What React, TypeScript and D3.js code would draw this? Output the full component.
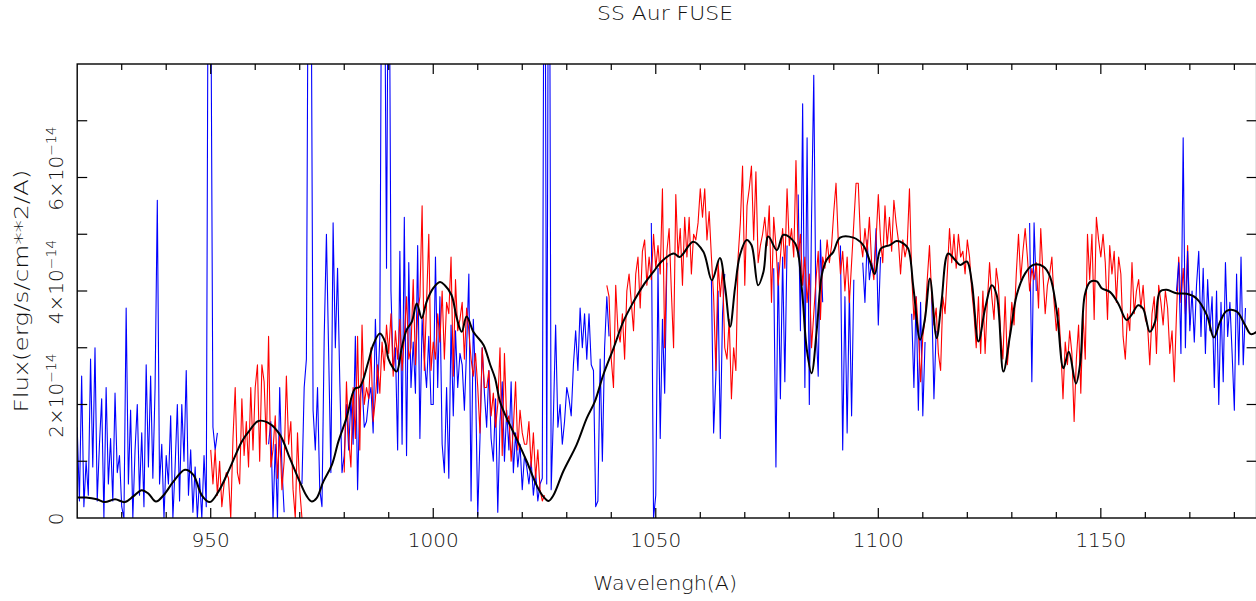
import React from "react";
import * as d3 from "d3";

const WIDTH = 1256;
const HEIGHT = 601;
const STEP = 0.5; // sampling of the spectra, Angstrom

// ---- Blue channel (flux in 1e-14 erg/s/cm^2/A), segments start wavelength + samples every 0.5 A
const blue920 = [
  1.6, 0.3, 2.5, 0.2, 1.0, 0.4, 2.8, 0.9, 3.0, 0.3,
  1.3, 2.1, 0.0, 2.3, 0.6, 1.4, 0.3, 2.2, 0.8, 1.1,
  0.2, 0.0, 3.7, 0.6, 1.9, 0.0, 1.2, 2.0, 0.4, 1.5,
  0.2, 2.7, 0.9, 2.5, 0.7, 2.3, 5.6, 0.6, 1.3, 0.0,
  1.1, 0.6, 1.8, 0.0, 0.9, 2.0, 0.3, 2.0, 1.0, 2.6,
  0.4, 1.2, 0.1, 0.9, 0.0, 0.7, 0.0, 1.1, 0.2, 12,
  10, 1.6, 1.2, 1.5,
];
const blue963 = [1.3, 1.7, 0.0, 1.3, 0.0, 2.3, 0.9, 0.1];
const blue970 = [
  0.6, 2.3, 2.8, 12, 11, 1.9, 1.2, 2.3, 0.5, 0.2,
  3.2, 5.0, 2.9, 0.8, 5.2, 3.0, 4.4, 2.4, 0.8, 1.1,
  2.0, 1.2, 2.1, 1.3, 3.2, 0.5, 2.1, 2.4, 1.6, 1.7,
  2.1, 2.3, 1.5, 3.5, 2.2, 3.2, 12, 11, 4.4, 12,
  4.0, 2.6, 3.0, 1.2, 4.7, 1.3, 5.3, 1.1, 4.5, 2.3,
  3.1, 2.2, 4.8, 1.4, 3.5, 2.8, 2.3, 3.2, 2.0, 2.0,
  4.6, 2.3, 3.9, 1.3, 0.8, 2.3, 0.7, 3.4, 1.8, 3.3,
  2.3, 2.9, 2.7, 1.9, 3.0, 4.3, 0.3, 3.5, 2.4, 0.05,
  1.4, 3.0, 2.2, 1.6, 2.6, 1.4, 1.0, 2.1, 0.1, 1.7,
  2.4, 1.0, 1.9, 1.2, 2.4, 0.8, 1.5, 0.9, 1.3, 0.5,
  1.1, 0.9, 0.6, 1.0, 0.4, 0.8, 0.3, 0.6, 0.7, 14,
  0.6, 14, 0.5, 1.8, 3.4, 1.6, 2.0, 1.3, 1.7, 2.3,
  2.1, 1.8, 2.7, 3.3, 2.6, 3.7, 3.0, 3.6, 2.8, 3.6,
  2.7, 2.6, 0.2, 0.3, 2.8, 1.0, 3.0, 3.9, 3.2,
];
const blue1049 = [5.2, 0.0, 0.4, 4.4, 1.4, 3.5, 2.2, 4.5];
const blue1062 = [4.2, 1.5, 2.5, 4.0, 1.4, 3.6, 4.3];
const blue1076 = [4.4, 0.9, 4.5, 2.1, 4.6, 2.4, 4.8];
const blue1082 = [5.7, 3.3, 7.3, 2.3, 6.7, 2.0, 5.3, 7.8, 3.4, 2.5, 4.9, 3.8];
const blue1091 = [4.8, 1.2, 3.9, 1.5, 4.0, 1.8, 4.2];
const blue1096 = [4.5, 3.8, 4.9, 4.2, 4.5, 4.3, 5.1, 3.4, 4.6];
const blue1107 = [3.6, 2.3, 3.9, 1.9, 3.8, 1.8, 3.1];
const blue1112 = [3.9, 2.1, 3.3];
const blue1134 = [5.2, 2.4, 5.2, 4.0];
const blue1167 = [
  4.0, 4.5, 2.9, 6.7, 3.0, 4.7, 3.3, 4.0, 3.1, 4.1,
  4.7, 3.2, 4.4, 2.9, 4.2, 3.3, 3.9, 2.3, 4.0, 2.0,
  3.8, 2.4, 4.5, 3.2, 3.8, 2.9, 1.9, 4.3, 2.7, 4.6,
  2.7, 3.7,
];

// ---- Red channel
const red950 = [
  1.2, 0.6, 1.2, 0.4, 1.0, 0.2, 0.6, 0.8, 0.7, 0.0,
  1.4, 2.3, 0.8, 0.6, 2.1, 1.1, 1.7, 0.9, 2.3, 1.2,
  2.3, 2.7, 1.0, 2.7, 2.4, 1.3, 3.2, 0.9, 1.2, 1.8,
  0.7, 1.5, 0.5, 1.0, 2.5, 1.3, 1.7, 0.5, 0.0, 1.5,
  0.5, 0.0,
];
const red980 = [
  0.8, 2.4, 1.4, 0.9, 2.3, 1.4, 3.2, 1.2, 3.4, 2.0,
  2.3, 2.1, 3.0, 1.7, 2.1, 2.7, 2.2, 3.1, 2.6, 3.4,
  2.9, 3.6, 2.5, 3.3, 2.8, 3.5, 2.6, 3.2, 3.9, 2.8,
  3.0, 4.2, 2.7, 3.6, 3.9, 5.5, 2.6, 3.8, 5.0, 2.6,
  3.1, 2.8, 3.6, 3.1, 4.0, 2.8, 3.8, 3.6, 4.6, 2.5,
  4.2, 3.3, 3.5, 3.8, 2.8, 3.7, 3.3, 2.8, 2.5, 2.9,
  2.3, 1.5, 3.0, 2.3, 2.3, 2.6, 1.8, 2.2, 1.6, 2.0,
  3.0, 1.1, 2.9, 1.7, 1.8, 1.0, 1.6, 2.4, 1.2, 1.9,
  1.5, 1.3, 1.3, 1.7, 0.9, 1.5, 0.7, 1.2, 0.5, 0.3,
  0.4,
];
const red1039 = [
  4.1, 3.9, 2.8, 2.3, 4.1, 3.3, 3.1, 3.6, 2.8, 4.0,
  4.3, 3.8, 3.3, 4.3, 4.6, 3.7, 4.7, 4.9, 4.1, 4.6,
  4.2, 5.0, 4.4, 4.8, 4.3, 5.8, 3.0, 4.7, 5.1, 4.0,
  3.0, 5.7, 4.6, 5.1, 4.1, 5.3, 4.6, 5.3, 4.3, 5.0,
  4.9, 5.2, 5.8, 5.3, 5.8, 4.9, 5.4, 4.6, 3.9, 2.6,
  4.5, 3.9, 4.4, 3.0, 2.8, 3.5, 2.1, 3.0, 2.6, 4.6,
  5.2, 6.2, 4.1, 5.5, 5.8, 6.2, 4.9, 6.1, 4.5, 4.8,
  5.0, 5.3, 4.8, 5.5, 3.8, 5.3, 4.8, 4.1, 4.6, 5.1,
  4.4, 5.8, 4.8, 5.1, 4.6, 6.3, 4.6, 5.0, 4.1, 4.6,
  3.8, 4.3, 3.0, 3.6, 4.2, 4.7, 3.5, 4.6, 4.4, 4.9,
  4.5, 4.8, 5.4, 5.9, 4.9, 4.3, 4.7, 4.0, 4.6, 3.8,
  4.5, 5.2, 5.9, 5.9, 4.9, 4.6, 5.1, 4.7, 5.3, 4.5,
  4.2, 4.9, 5.7, 4.9, 4.5, 5.5, 4.8, 5.3, 4.7, 5.6,
  5.2, 4.9, 4.3, 4.9, 4.6, 4.8, 5.8, 4.3, 3.5, 3.9,
  3.3, 2.4, 3.2, 3.5, 4.2, 4.8, 3.9, 3.4, 3.7, 2.9,
  2.6, 3.9, 3.6, 4.3, 5.1, 4.5, 5.0, 4.4, 5.0, 4.6,
  4.7, 4.3, 4.9, 4.6, 4.0, 3.6, 3.0, 3.9, 2.9, 4.0,
  2.9, 3.8, 4.5, 3.9, 3.5, 4.4, 4.1, 3.2, 2.8, 3.9,
  2.7, 3.2, 3.8, 3.4, 4.3, 5.0, 4.2, 4.7, 5.1, 4.6,
  4.0, 4.4, 4.2, 4.5, 3.7, 5.1, 4.3, 3.6, 4.1, 4.3,
  4.6, 3.8, 3.3, 3.7, 3.0, 2.1, 3.1, 2.7, 3.3, 2.9,
  1.7, 2.8, 3.4, 2.2, 3.6, 2.8, 5.0, 4.2, 5.0, 3.5,
  5.3, 4.9, 4.6, 5.0, 4.5, 3.5, 4.8, 4.3, 4.7, 3.8,
  4.6, 4.3, 3.2, 2.8, 3.6, 3.3, 4.5, 3.6, 4.0, 4.2,
  3.7, 4.1, 3.5, 3.4, 2.7, 3.6, 3.9, 2.9, 4.1, 3.8,
  3.4, 4.0, 3.7, 2.9, 3.3, 2.4, 3.6, 4.6, 3.8, 4.4,
  3.6, 4.8, 3.4,
];

// ---- Smoothed model (black)
const modelWave = [
  920, 922, 924.4, 926.2, 928.5, 930.7, 932.6, 934.5, 936, 937.7,
  939.4, 941.6, 944.2, 946.1, 948, 949.8, 951.7, 954.3, 957, 958.8,
  960.7, 963.3, 965.6, 967.8, 970, 971.6, 972.7, 973.8, 975.3, 977.2,
  978.7, 980.5, 982.4, 983.5, 985.4, 986.5, 988, 989.2, 989.9, 991,
  991.8, 992.9, 994, 995.2, 996.3, 997.4, 998.5, 1000, 1001.5, 1002.6,
  1004.1, 1005.3, 1006.4, 1007.5, 1009, 1009.8, 1011.3, 1012.8, 1013.9, 1015,
  1016.5, 1018.7, 1021, 1023.2, 1024.7, 1025.9, 1027, 1029.2, 1032.2, 1034.5,
  1036.3, 1038.2, 1040.5, 1042.7, 1045, 1047.2, 1049.5, 1051.3, 1054, 1055.4,
  1058.4, 1060.7, 1062.6, 1064.4, 1065.6, 1066.7, 1067.8, 1068.9, 1070.4, 1071.5,
  1073, 1074.2, 1075.3, 1077.2, 1078.7, 1081.3, 1082.8, 1083.9, 1085, 1086.2,
  1087.3, 1088.4, 1089.9, 1091.4, 1094.4, 1096.6, 1098, 1099.2, 1100.6, 1102.6,
  1104.1, 1105.6, 1106.7, 1107.9, 1109.4, 1110.5, 1111.6, 1113.1, 1114.2, 1115.7,
  1117.2, 1118.4, 1119.9, 1121, 1122.5, 1124, 1125.5, 1126.6, 1128.1, 1129.6,
  1131.1, 1133, 1134.8, 1137.1, 1138.6, 1140.1, 1141.6, 1142.8, 1144.4, 1145.4,
  1146.4, 1147.6, 1149.1, 1150.2, 1152.1, 1153.9, 1155.8, 1156.9, 1158.4, 1159.5,
  1161, 1162.2, 1163.3, 1164.8, 1167, 1169.3, 1171.5, 1173.8, 1175.4, 1176.8,
  1178.3, 1180.5, 1182.4, 1183.7, 1185,
];
const modelFlux = [
  0.36, 0.36, 0.33, 0.28, 0.33, 0.28, 0.38, 0.49, 0.43, 0.29,
  0.4, 0.64, 0.85, 0.76, 0.4, 0.28, 0.46, 0.88, 1.35, 1.55,
  1.71, 1.66, 1.46, 1.05, 0.64, 0.38, 0.29, 0.35, 0.64, 0.93,
  1.35, 1.76, 2.28, 2.31, 2.75, 3.05, 3.25, 3.1, 2.81, 2.64,
  2.58, 2.99, 3.31, 3.46, 3.78, 3.52, 3.81, 4.05, 4.16, 4.1,
  3.93, 3.52, 3.28, 3.55, 3.28, 3.2, 3.05, 2.7, 2.46, 2.05,
  1.76, 1.4, 1.0, 0.58, 0.38, 0.3, 0.4, 0.82, 1.29, 1.76,
  2.05, 2.52, 2.99, 3.46, 3.81, 4.1, 4.34, 4.52, 4.66, 4.6,
  4.87, 4.69, 4.19, 4.58, 4.05, 3.37, 4.05, 4.63, 4.9, 4.81,
  4.1, 4.34, 4.96, 4.72, 4.99, 4.84, 4.05, 2.99, 2.55, 3.34,
  4.28, 4.55, 4.69, 4.94, 4.94, 4.81, 4.55, 4.3, 4.75, 4.81,
  4.88, 4.84, 4.75, 4.05, 3.14, 3.52, 4.22, 3.17, 3.81, 4.66,
  4.55, 4.46, 4.52, 4.16, 3.11, 3.69, 4.1, 3.93, 2.58, 3.22,
  3.93, 4.31, 4.46, 4.43, 4.25, 3.64, 2.64, 2.93, 2.37, 2.75,
  3.93, 4.16, 4.17, 4.05, 3.98, 3.78, 3.49, 3.58, 3.75, 3.69,
  3.28, 3.46, 3.99, 4.02, 3.96, 3.95, 3.87, 3.58, 3.18, 3.46,
  3.65, 3.64, 3.4, 3.24, 3.28,
];

// ---- Axes
const xDomain = [920, 1185];
const yDomain = [0, 8];
const xMajorTicks = [950, 1000, 1050, 1100, 1150];
const xMinorTicks = [930, 940, 960, 970, 980, 990, 1010, 1020, 1030, 1040, 1060, 1070, 1080, 1090, 1110, 1120, 1130, 1140, 1160, 1170, 1180];
const yTicks = [1, 2, 3, 4, 5, 6, 7];
const yLabelTicks = [2, 4, 6];
const yExponent = "\u221214";

const blueSegments = [
  { start: 920, flux: blue920 },
  { start: 963, flux: blue963 },
  { start: 970.5, flux: blue970 },
  { start: 1049, flux: blue1049 },
  { start: 1062.5, flux: blue1062 },
  { start: 1076.5, flux: blue1076 },
  { start: 1082, flux: blue1082 },
  { start: 1091.5, flux: blue1091 },
  { start: 1096.5, flux: blue1096 },
  { start: 1107.5, flux: blue1107 },
  { start: 1112, flux: blue1112 },
  { start: 1134, flux: blue1134 },
];
const redSegments = [
  { start: 950, flux: red950 },
  { start: 980, flux: red980 },
  { start: 1039, flux: red1039 },
];
const blueTopSegments = [{ start: 1167, flux: blue1167 }];

const LEFT = 77.2;
const TOP = 64;
const BOTTOM = 518;
const RIGHT = 1256.6;
const FONT = "'DejaVu Sans', sans-serif";

export default function App() {
  const x = d3.scaleLinear().domain(xDomain).range([LEFT, RIGHT]);
  const y = d3.scaleLinear().domain(yDomain).range([BOTTOM, TOP]);
  const line = d3
    .line<[number, number]>()
    .x((d) => x(d[0]))
    .y((d) => y(d[1]));
  const modelLine = d3
    .line<[number, number]>()
    .x((d) => x(d[0]))
    .y((d) => y(d[1]))
    .curve(d3.curveCatmullRom.alpha(0.5));

  const segPath = (s: { start: number; flux: number[] }) =>
    line(s.flux.map((f, i) => [s.start + i * STEP, f] as [number, number])) || "";

  const modelPts = modelWave.map((w, i) => [w, modelFlux[i]] as [number, number]);

  const textColor = "#111";

  return (
    <svg
      width={WIDTH}
      height={HEIGHT}
      style={{ position: "absolute", left: 0, top: 0, background: "#fff" }}
      fontFamily={FONT}
    >
      <rect x={0} y={0} width={WIDTH} height={HEIGHT} fill="#fff" />
      <defs>
        <clipPath id="plotClip">
          <rect x={LEFT} y={TOP} width={RIGHT - LEFT} height={BOTTOM - TOP} />
        </clipPath>
      </defs>

      <g clipPath="url(#plotClip)" fill="none" strokeLinejoin="round">
        {blueSegments.map((s, i) => (
          <path key={"b" + i} d={segPath(s)} stroke="#0000ff" strokeWidth={1.1} />
        ))}
        {redSegments.map((s, i) => (
          <path key={"r" + i} d={segPath(s)} stroke="#ff0000" strokeWidth={1.1} />
        ))}
        {blueTopSegments.map((s, i) => (
          <path key={"bt" + i} d={segPath(s)} stroke="#0000ff" strokeWidth={1.1} />
        ))}
        <path d={modelLine(modelPts) || ""} stroke="#000" strokeWidth={2} />
      </g>

      {/* frame */}
      <rect x={LEFT} y={TOP} width={RIGHT - LEFT} height={BOTTOM - TOP} fill="none" stroke="#000" strokeWidth={1.4} />

      {/* x ticks */}
      <g stroke="#000" strokeWidth={1.2}>
        {xMajorTicks.map((t) => (
          <g key={"xM" + t}>
            <line x1={x(t)} x2={x(t)} y1={BOTTOM} y2={BOTTOM - 10} />
            <line x1={x(t)} x2={x(t)} y1={TOP} y2={TOP + 10} />
          </g>
        ))}
        {xMinorTicks.map((t) => (
          <g key={"xm" + t}>
            <line x1={x(t)} x2={x(t)} y1={BOTTOM} y2={BOTTOM - 6} />
            <line x1={x(t)} x2={x(t)} y1={TOP} y2={TOP + 6} />
          </g>
        ))}
        {yTicks.map((t) => (
          <g key={"y" + t}>
            <line x1={LEFT} x2={LEFT + 10} y1={y(t)} y2={y(t)} />
            <line x1={RIGHT} x2={RIGHT - 10} y1={y(t)} y2={y(t)} />
          </g>
        ))}
      </g>

      {/* x tick labels */}
      <g fontSize={20} fill={textColor} textAnchor="middle" fontWeight={200}>
        {xMajorTicks.map((t) => (
          <text key={"xl" + t} x={x(t)} y={547}>
            {t}
          </text>
        ))}
      </g>

      {/* y tick labels */}
      <g fontSize={20} fill={textColor} fontWeight={200}>
        <text transform={`translate(63,${y(0) + 1}) rotate(-90)`} textAnchor="middle">
          0
        </text>
        {yLabelTicks.map((t) => (
          <text key={"yl" + t} transform={`translate(63,${y(t) - 9}) rotate(-90)`} textAnchor="middle">
            {`${t}\u00d710`}
            <tspan fontSize={14} dy={-7}>
              {yExponent}
            </tspan>
          </text>
        ))}
      </g>

      {/* titles */}
      <g fill={textColor} fontSize={20} fontWeight={200}>
        <text x={665} y={20} textAnchor="middle" textLength={136} lengthAdjust="spacingAndGlyphs">
          SS Aur FUSE
        </text>
        <text x={665} y={590} textAnchor="middle" textLength={144} lengthAdjust="spacingAndGlyphs">
          Wavelengh(A)
        </text>
        <text
          transform={`translate(28,${(TOP + BOTTOM) / 2}) rotate(-90)`}
          textAnchor="middle"
          textLength={243}
          lengthAdjust="spacingAndGlyphs"
        >
          Flux(erg/s/cm**2/A)
        </text>
      </g>
    </svg>
  );
}
